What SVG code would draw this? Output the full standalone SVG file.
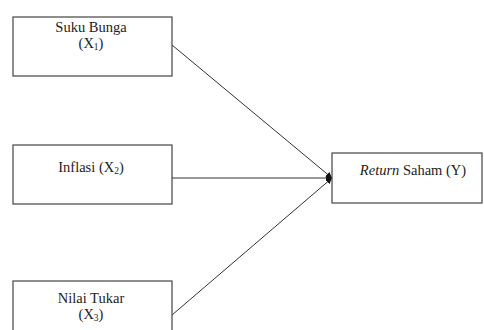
<svg xmlns="http://www.w3.org/2000/svg" width="484" height="330" viewBox="0 0 484 330">
<style>
.box{fill:#fff;stroke:#444;stroke-width:1.2}
.t{font-family:"Liberation Serif","Times New Roman",serif;font-size:14.5px;fill:#222;text-anchor:middle}
.s{font-size:9.5px}
.c{stroke:#333;stroke-width:1;fill:none;marker-end:url(#ah)}
</style>
<defs>
<marker id="ah" viewBox="0 0 10 10" refX="10" refY="5" markerWidth="6" markerHeight="6" markerUnits="userSpaceOnUse" orient="auto">
<path d="M0,0 L10,5 L0,10 z" fill="#111"/>
</marker>
</defs>
<rect width="484" height="330" fill="#fff"/>
<g id="connectors">
<line class="c" x1="172" y1="45" x2="332" y2="178"/>
<line class="c" x1="172" y1="178" x2="332" y2="178"/>
<line class="c" x1="172" y1="315" x2="332" y2="178"/>
</g>
<g id="suku-bunga">
<rect class="box" x="13" y="17" width="159" height="59"/>
<text class="t" x="91" y="32">Suku Bunga</text>
<text class="t" x="91" y="48">(X<tspan class="s" dy="2">1</tspan><tspan dy="-2">)</tspan></text>
</g>
<g id="inflasi">
<rect class="box" x="13" y="145" width="159" height="59"/>
<text class="t" x="91" y="172">Inflasi (X<tspan class="s" dy="2">2</tspan><tspan dy="-2">)</tspan></text>
</g>
<g id="nilai-tukar">
<rect class="box" x="13" y="281" width="159" height="59"/>
<text class="t" x="91" y="303">Nilai Tukar</text>
<text class="t" x="91" y="319">(X<tspan class="s" dy="2">3</tspan><tspan dy="-2">)</tspan></text>
</g>
<g id="return-saham">
<rect class="box" x="332" y="153" width="150" height="50"/>
<text class="t" x="413" y="175"><tspan font-style="italic">Return</tspan> Saham (Y)</text>
</g>
</svg>
